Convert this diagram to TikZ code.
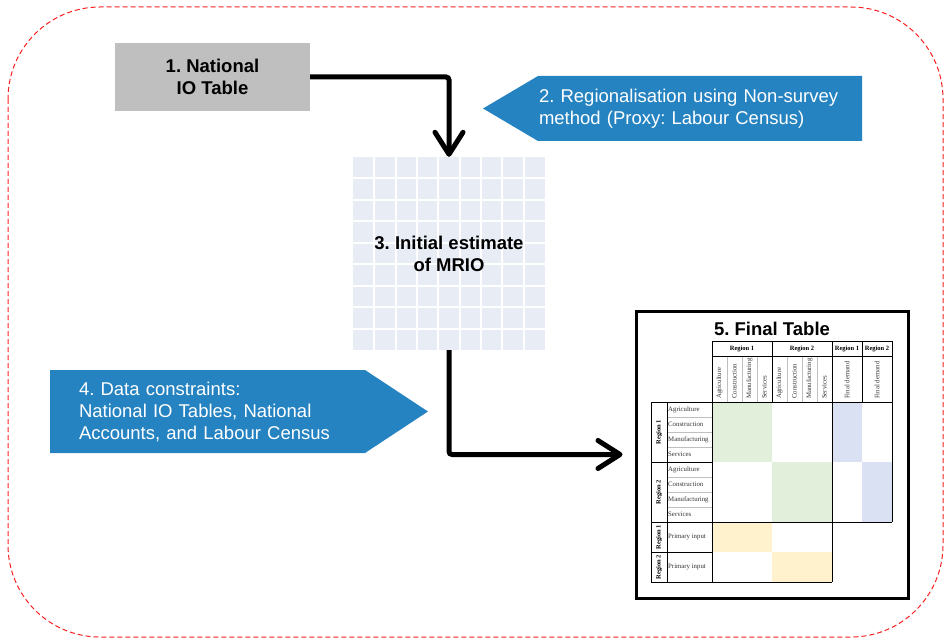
\documentclass[tikz,border=0pt]{standalone}
\usepackage{xcolor}
\usepackage{fontspec}
\setmainfont{Liberation Sans}
\newfontfamily\tabfont{Liberation Serif}
\usepackage{tikz}
\usetikzlibrary{arrows.meta,shapes.symbols}

\definecolor{boxgrey}{RGB}{191,191,191}
\definecolor{stepblue}{RGB}{37,131,194}
\definecolor{cellblue}{RGB}{231,236,245}
\definecolor{zgreen}{RGB}{226,239,218}
\definecolor{fdblue}{RGB}{217,225,242}
\definecolor{piyellow}{RGB}{255,242,204}
\definecolor{framered}{RGB}{250,30,30}
\frenchspacing

\begin{document}
\begin{tikzpicture}[x=1pt,y=-1pt,
  flow/.style={line width=5pt,rounded corners=3pt,-{Straight Barb[length=22pt,width=28pt,round]}},
  boldlbl/.style={font=\bfseries\fontsize{18.5}{22}\selectfont,align=center},
  arrowlbl/.style={signal,signal from=nowhere,fill=stepblue,text=white,font=\fontsize{18.5}{22}\selectfont,align=left,inner ysep=0pt},
  hdr/.style={font=\tabfont\bfseries\fontsize{6.5}{7}\selectfont,inner sep=0.5pt},
  sect/.style={font=\tabfont\fontsize{6.8}{7}\selectfont,text=black!80,inner sep=1pt},
  rule/.style={line width=0.9pt},
  hair/.style={line width=0.4pt,black!25}]
\useasboundingbox (0,0) rectangle (945,639);
\draw[framered,line width=1pt,dash pattern=on 5pt off 3pt,rounded corners=92pt] (8,7) rectangle (943,637);

% steps
\node (natbox) [boldlbl,fill=boxgrey,minimum width=195pt,minimum height=68pt] at (212.5,77) {1. National\\IO Table};
\node (regio) [arrowlbl,signal to=west,signal pointer angle=61.2,text width=322pt,inner xsep=1pt,minimum height=65pt] at (700,108.5) {2. Regionalisation using Non-survey\\method (Proxy: Labour Census)};
\fill[cellblue] (353,157) rectangle (545,350);
\foreach \k in {1,...,8}{
  \draw[white,line width=2pt] (353+\k*21.333,157) -- (353+\k*21.333,350);
  \draw[white,line width=2pt] (353,157+\k*21.444) -- (545,157+\k*21.444);
}
\node (mrio) [boldlbl,minimum width=192pt,minimum height=193pt] at (449,253.5) {3. Initial estimate\\of MRIO};
\node (cons) [arrowlbl,signal to=east,signal pointer angle=66.8,text width=257pt,inner xsep=29pt,minimum height=83pt] at (207.5,411.5) {4. Data constraints:\\National IO Tables, National\\Accounts, and Labour Census};
\node (final) [draw,line width=3pt,minimum width=272pt,minimum height=287pt] at (772,454.5) {};
\node (ftitle) [boldlbl] at (772,329) {5. Final Table};

\draw[flow] (natbox.east) -| (mrio.north);
\draw[flow,shorten >=12pt] (mrio.south) |- (final.west);

% table cells
\fill[zgreen] (712,402) rectangle (772,462);
\fill[zgreen] (772,462) rectangle (832,522);
\fill[fdblue] (832,402) rectangle (862,462);
\fill[fdblue] (862,462) rectangle (892,522);
\fill[piyellow] (712,522) rectangle (772,552);
\fill[piyellow] (772,552) rectangle (832,582);
\foreach \x in {727,742,757,787,802,817}
  \draw[hair] (\x,356) -- (\x,402);
\foreach \y in {417,432,447,477,492,507}
  \draw[hair] (667,\y) -- (712,\y);
\draw[rule] (712,341) rectangle (892,402);
\draw[rule] (712,356) -- (892,356);
\foreach \x in {772,832,862}
  \draw[rule] (\x,341) -- (\x,402);
\draw[rule] (651,402) -- (712,402);
\foreach \x in {651,667,712,832}
  \draw[rule] (\x,402) -- (\x,582);
\draw[rule] (892,402) -- (892,522);
\foreach \y in {462,552}
  \draw[rule] (651,\y) -- (712,\y);
\draw[rule] (651,522) -- (892,522);
\draw[rule] (651,582) -- (832,582);

% table labels
\node (h1) [hdr] at (742,348.5) {Region 1};
\node (h2) [hdr] at (802,348.5) {Region 2};
\node (h3) [hdr] at (847,348.5) {Region 1};
\node (h4) [hdr] at (877,348.5) {Region 2};
\foreach \s [count=\i] in {Agriculture,Construction,Manufacturing,Services}{
  \node (ca\i) [sect,rotate=90,anchor=west] at (704.5+15*\i,400) {\s};
  \node (cb\i) [sect,rotate=90,anchor=west] at (764.5+15*\i,400) {\s};
  \node (ra\i) [sect,anchor=west] at (667,394.5+15*\i) {\s};
  \node (rb\i) [sect,anchor=west] at (667,454.5+15*\i) {\s};
}
\node (fd1) [sect,rotate=90,anchor=west] at (847,400) {Final demand};
\node (fd2) [sect,rotate=90,anchor=west] at (877,400) {Final demand};
\node (v1) [hdr,rotate=90] at (659,432) {Region 1};
\node (v2) [hdr,rotate=90] at (659,492) {Region 2};
\node (v3) [hdr,rotate=90] at (659,537) {Region 1};
\node (v4) [hdr,rotate=90] at (659,567) {Region 2};
\node (pi1) [sect,anchor=west] at (667,537) {Primary input};
\node (pi2) [sect,anchor=west] at (667,567) {Primary input};
\end{tikzpicture}
\end{document}
